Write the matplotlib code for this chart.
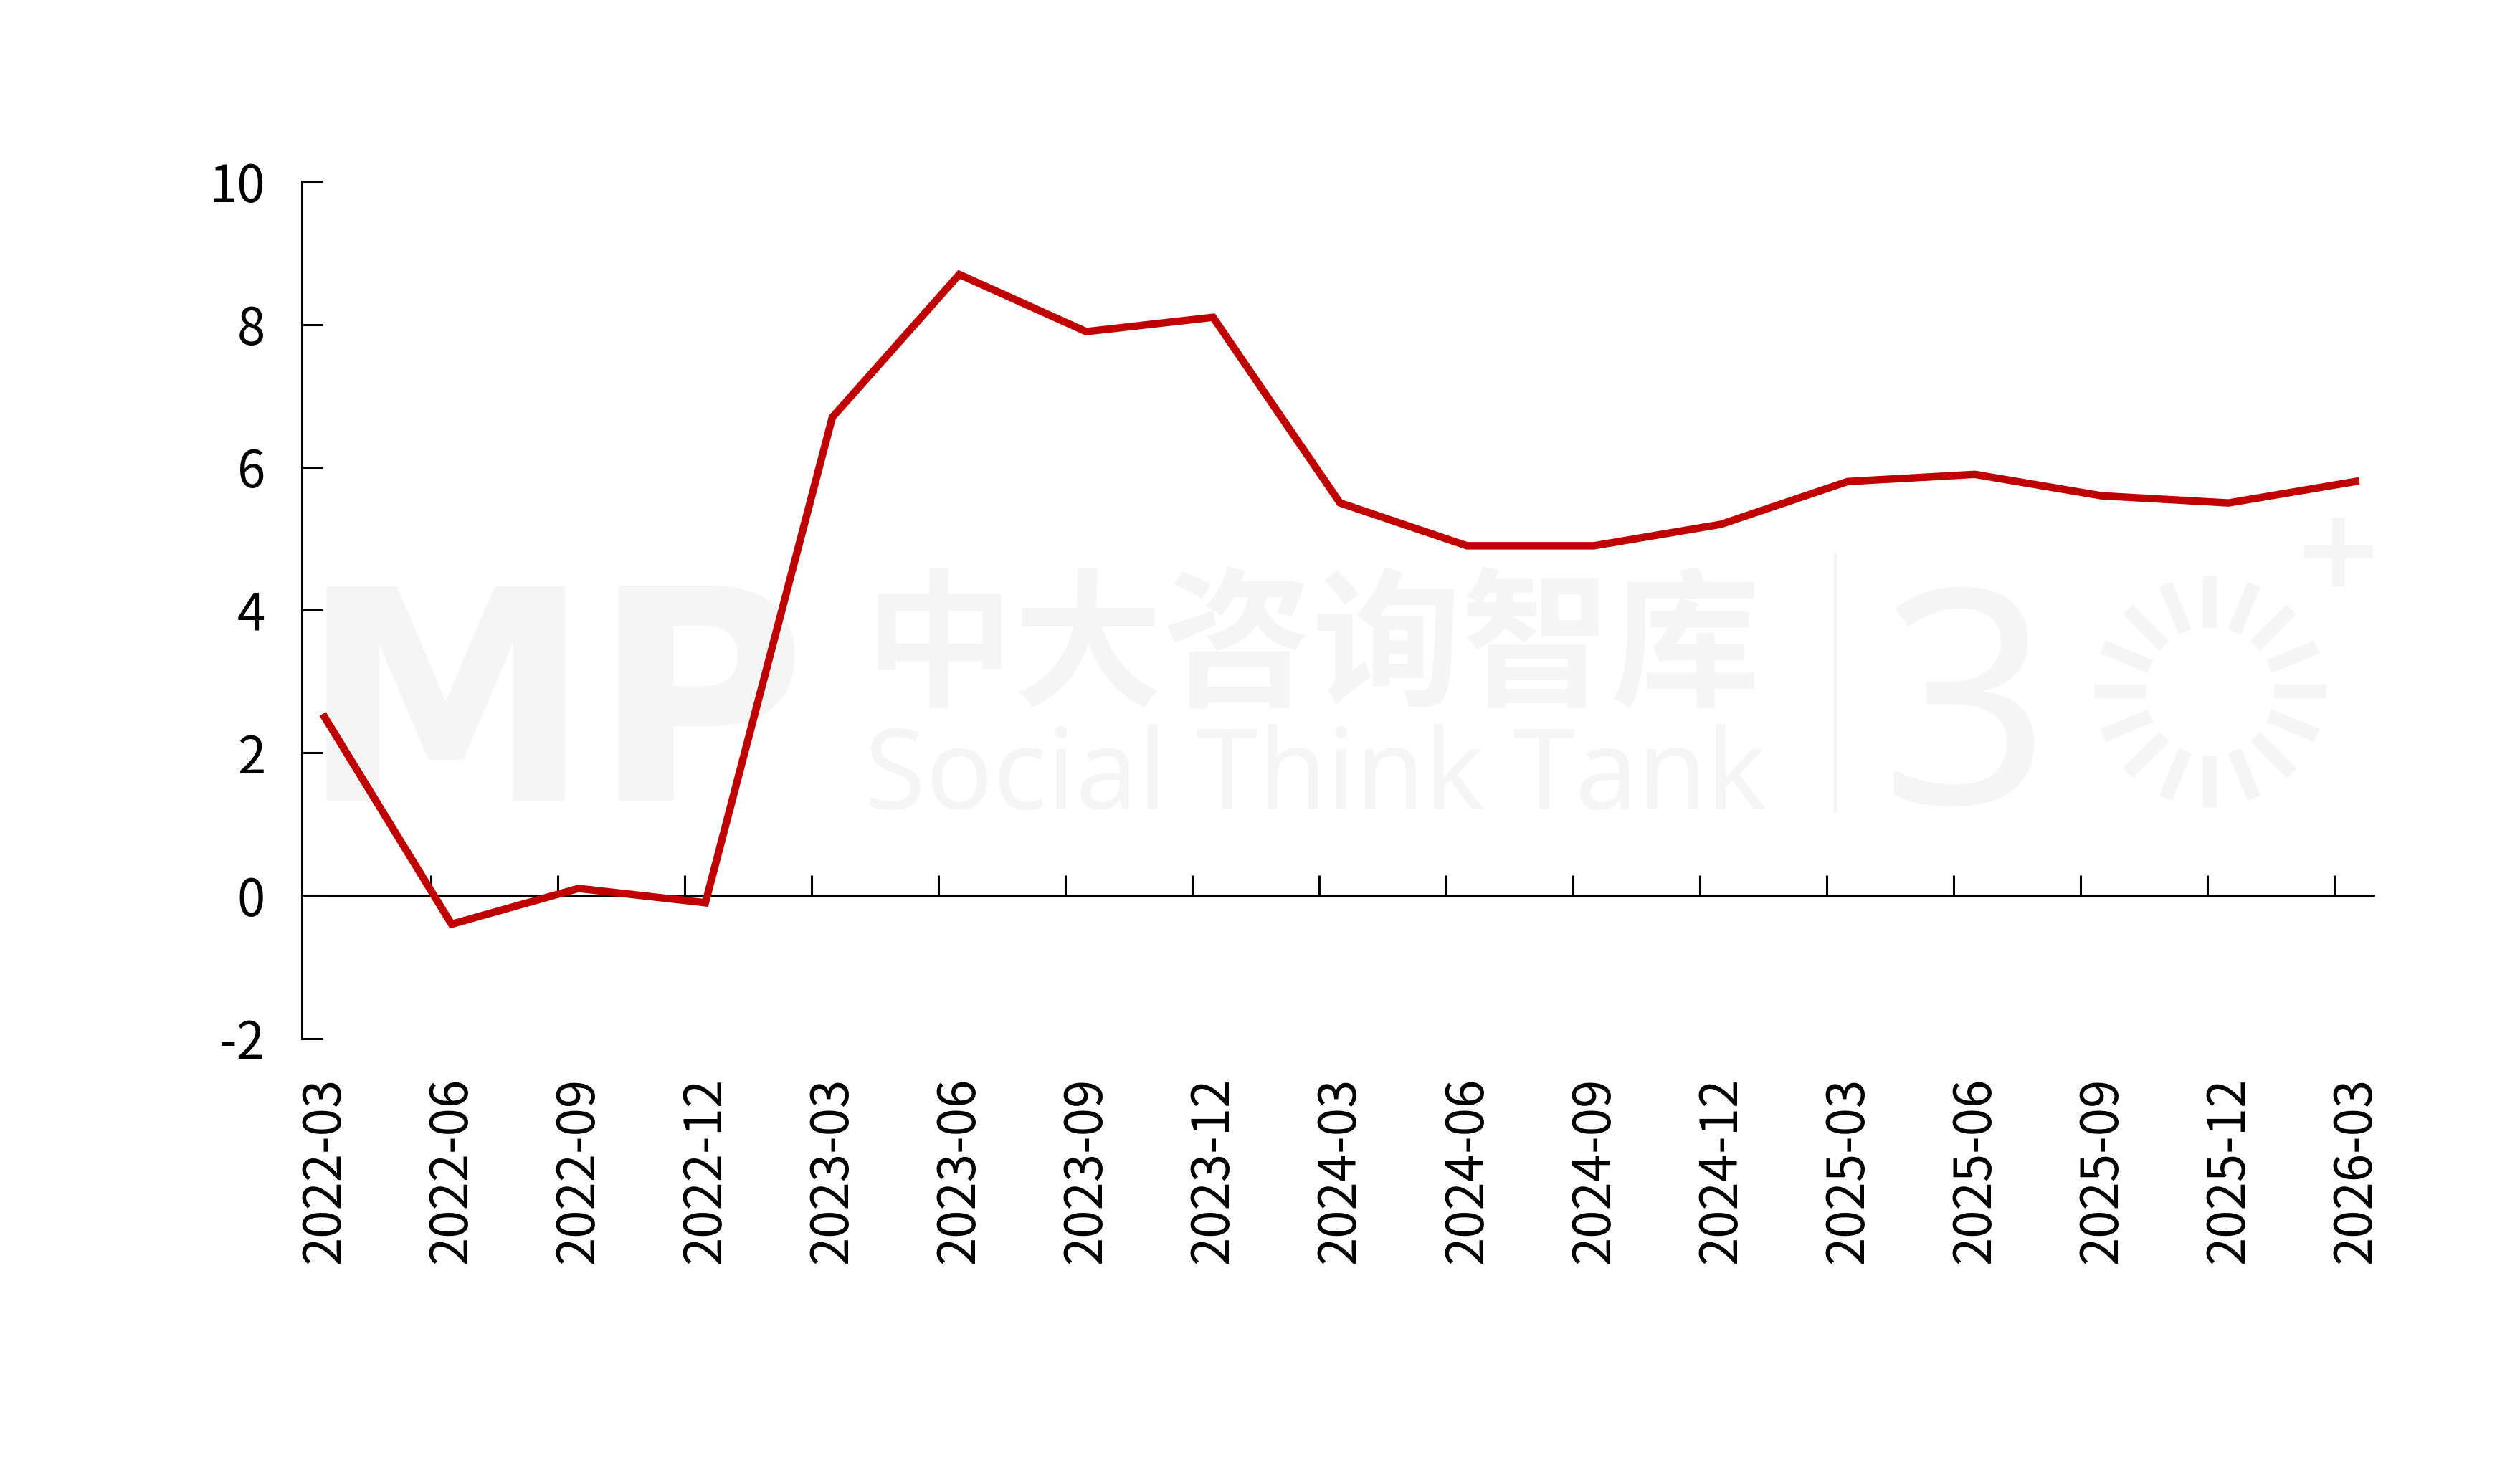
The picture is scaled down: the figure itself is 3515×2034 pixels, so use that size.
import matplotlib
matplotlib.use('Agg')
import matplotlib.pyplot as plt
import numpy as np

# -----------------------------------------------------------------------------
# data
# -----------------------------------------------------------------------------
quarters = ['2022-03', '2022-06', '2022-09', '2022-12',
            '2023-03', '2023-06', '2023-09', '2023-12',
            '2024-03', '2024-06', '2024-09', '2024-12',
            '2025-03', '2025-06', '2025-09', '2025-12', '2026-03']
values = [2.5, -0.4, 0.1, -0.1,
          6.7, 8.7, 7.9, 8.1,
          5.5, 4.9, 4.9, 5.2,
          5.8, 5.9, 5.6, 5.5, 5.8]
y_ticks = [-2, 0, 2, 4, 6, 8, 10]

plt.rcParams['font.family'] = ['Noto Sans CJK SC', 'DejaVu Sans']
plt.rcParams['axes.unicode_minus'] = False

w, h, dpi = 3515, 2034, 100
fig = plt.figure(figsize=(w/dpi, h/dpi), dpi=dpi)
fig.patch.set_facecolor('white')
ax = fig.add_axes([0.1199, 0.2878, 0.942 - 0.1199, 0.8754 - 0.2878])
ax.patch.set_visible(False)

# -----------------------------------------------------------------------------
# watermark (very faint)
# -----------------------------------------------------------------------------
wm = '#f5f5f5'
tf = fig.transFigure
fig.text(186/1568, 1 - 498/907, 'MP', fontsize=295, fontweight='bold',
         color=wm, family='DejaVu Sans', ha='left', va='baseline', zorder=-5)
fig.text(538/1568, 1 - 432/907, '中大咨询智库', fontsize=150, fontweight='bold',
         color=wm, ha='left', va='baseline', zorder=-5)
fig.text(538/1568, 1 - 503/907, 'Social Think Tank', fontsize=112,
         color=wm, family='Noto Sans', ha='left', va='baseline', zorder=-5)
fig.add_artist(plt.Line2D([1142/1568, 1142/1568], [1 - 345/907, 1 - 505/907],
                          transform=tf, color=wm, lw=4, zorder=-5))
fig.text(1170/1568, 1 - 500/907, '3', fontsize=300, color=wm,
         family='Noto Sans', ha='left', va='baseline', zorder=-5)
fig.text(1455/1568, 1 - 346/907, '+', fontsize=110, fontweight='bold', color=wm,
         family='DejaVu Sans', ha='center', va='center', zorder=-5)
cx, cy = 1375, 430
for a in np.linspace(0, 2*np.pi, 16, endpoint=False):
    r0, r1 = 40, 72
    xs = [(cx + r0*np.cos(a))/1568, (cx + r1*np.cos(a))/1568]
    ys = [1 - (cy + r0*np.sin(a))/907, 1 - (cy + r1*np.sin(a))/907]
    fig.add_artist(plt.Line2D(xs, ys, transform=tf, color=wm, lw=14,
                              solid_capstyle='butt', zorder=-5))

# -----------------------------------------------------------------------------
# line
# -----------------------------------------------------------------------------
x = np.arange(len(quarters))
ax.plot(x, values, color='#C00000', lw=7.5, solid_joinstyle='miter', zorder=3)

ax.set_xlim(-0.177, len(quarters) - 1 + 0.145)
ax.set_ylim(y_ticks[0], y_ticks[-1])

for s in ['top', 'right']:
    ax.spines[s].set_visible(False)
ax.spines['bottom'].set_position(('data', 0))
ax.spines['bottom'].set_linewidth(2.2)
ax.spines['left'].set_linewidth(2.2)

ax.set_yticks(y_ticks)
ax.set_yticklabels([str(v) for v in y_ticks])
ax.tick_params(axis='y', direction='in', length=21, width=2.2,
               labelsize=51, pad=37)

# tick marks on the zero line sit slightly left of each category
ax.set_xticks(x[1:] - 0.165)
ax.set_xticklabels([])
ax.tick_params(axis='x', direction='in', length=20, width=2.2)

for i, lab in enumerate(quarters):
    ax.annotate(lab, xy=(i, 0), xycoords=ax.get_xaxis_transform(),
                xytext=(0, -39), textcoords='offset points',
                rotation=90, ha='center', va='top', fontsize=51)

fig.savefig('out.png', dpi=dpi, facecolor='white')
plt.close(fig)
